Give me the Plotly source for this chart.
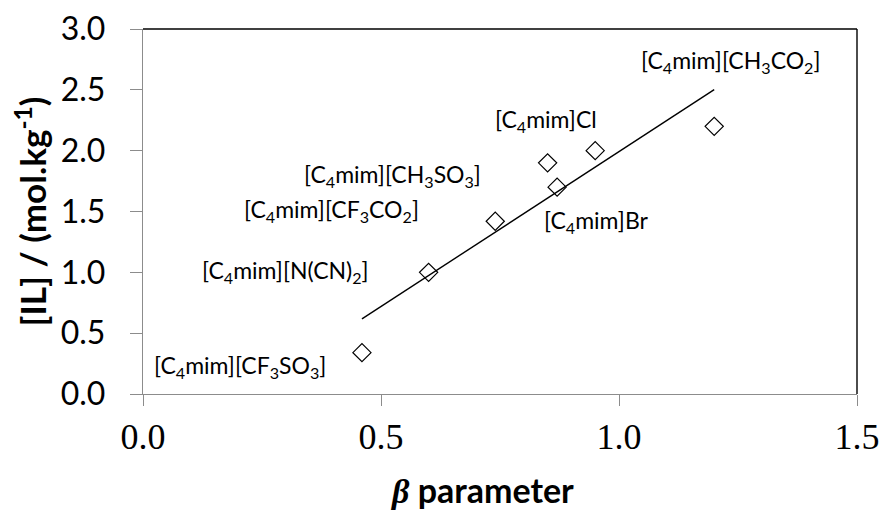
import numpy as np
import plotly.graph_objects as go

# Kamlet-Taft beta parameter vs ionic liquid concentration
beta = [0.46, 0.60, 0.74, 0.85, 0.87, 0.95, 1.20]
conc = [0.34, 1.00, 1.42, 1.90, 1.70, 2.00, 2.20]

# Ionic liquid labels and where each one is placed (data coordinates)
il_labels = [
    "[C<sub>4</sub>mim][CF<sub>3</sub>SO<sub>3</sub>]",
    "[C<sub>4</sub>mim][N(CN)<sub>2</sub>]",
    "[C<sub>4</sub>mim][CF<sub>3</sub>CO<sub>2</sub>]",
    "[C<sub>4</sub>mim][CH<sub>3</sub>SO<sub>3</sub>]",
    "[C<sub>4</sub>mim]Br",
    "[C<sub>4</sub>mim]Cl",
    "[C<sub>4</sub>mim][CH<sub>3</sub>CO<sub>2</sub>]",
]
label_x = [0.204, 0.299, 0.395, 0.524, 0.952, 0.847, 1.235]
label_y = [0.225, 1.005, 1.51, 1.80, 1.415, 2.25, 2.73]

x_ticks = [0.0, 0.5, 1.0, 1.5]
y_ticks = [0.0, 0.5, 1.0, 1.5, 2.0, 2.5, 3.0]

# Linear least-squares trendline over the measured range
slope, intercept = np.polyfit(beta, conc, 1)
fit_x = np.array([min(beta), max(beta)])
fit_y = slope * fit_x + intercept

fig = go.Figure()
fig.add_trace(go.Scatter(
    x=fit_x, y=fit_y, mode="lines",
    line=dict(color="black", width=1.4),
    hoverinfo="skip", showlegend=False,
))
fig.add_trace(go.Scatter(
    x=beta, y=conc, mode="markers",
    marker=dict(symbol="diamond-open", size=14, color="black",
                line=dict(color="black", width=1.2)),
    showlegend=False,
))

for txt, lx, ly in zip(il_labels, label_x, label_y):
    fig.add_annotation(
        x=lx, y=ly, xref="x", yref="y", text=txt, showarrow=False,
        font=dict(family="Lato", size=23, color="black"),
        xanchor="center", yanchor="middle",
    )

# Axis titles
fig.add_annotation(
    x=(482 - 143) / 714, y=(394.3 - 490) / 365.3, xref="paper", yref="paper",
    text="<b><i><span style=\"font-family:'Liberation Serif'\">β</span></i> parameter</b>",
    font=dict(family="Lato", size=34, color="black"),
    showarrow=False, xanchor="center", yanchor="middle",
)
fig.add_annotation(
    x=(30 - 143) / 714, y=0.5, xref="paper", yref="paper",
    text="<b>[IL] / (mol.kg<sup>-1</sup>)</b>", textangle=-90,
    font=dict(family="Lato", size=35, color="black"),
    showarrow=False, xanchor="center", yanchor="middle",
)

# Black frame on top and right of the plotting area
fig.add_shape(type="line", xref="paper", yref="paper", x0=0, x1=1, y0=1, y1=1,
              line=dict(color="black", width=1.4))
fig.add_shape(type="line", xref="paper", yref="paper", x0=1, x1=1, y0=0, y1=1,
              line=dict(color="black", width=1.4))

fig.update_xaxes(
    range=[0, 1.5], tickvals=x_ticks, ticktext=[f"{v:.1f}" for v in x_ticks],
    showgrid=False, zeroline=False, automargin=False,
    showline=True, linecolor="#8c8c8c", linewidth=1.4,
    ticks="outside", ticklen=11, tickcolor="#8c8c8c", tickwidth=1.2,
    tickfont=dict(family="Liberation Serif", size=36, color="black"),
)
fig.update_yaxes(
    range=[0, 3.0], tickvals=y_ticks, ticktext=[f"{v:.1f}" for v in y_ticks],
    showgrid=False, zeroline=False, automargin=False,
    showline=True, linecolor="#8c8c8c", linewidth=1.4,
    ticks="outside", ticklen=12, tickcolor="#8c8c8c", tickwidth=1.2,
    ticklabelstandoff=18,
    tickfont=dict(family="Lato", size=32, color="black"),
)

fig.update_layout(
    width=882, height=515,
    margin=dict(l=143, r=25, t=29, b=121),
    plot_bgcolor="white", paper_bgcolor="white",
)

fig.write_html("out.html")
